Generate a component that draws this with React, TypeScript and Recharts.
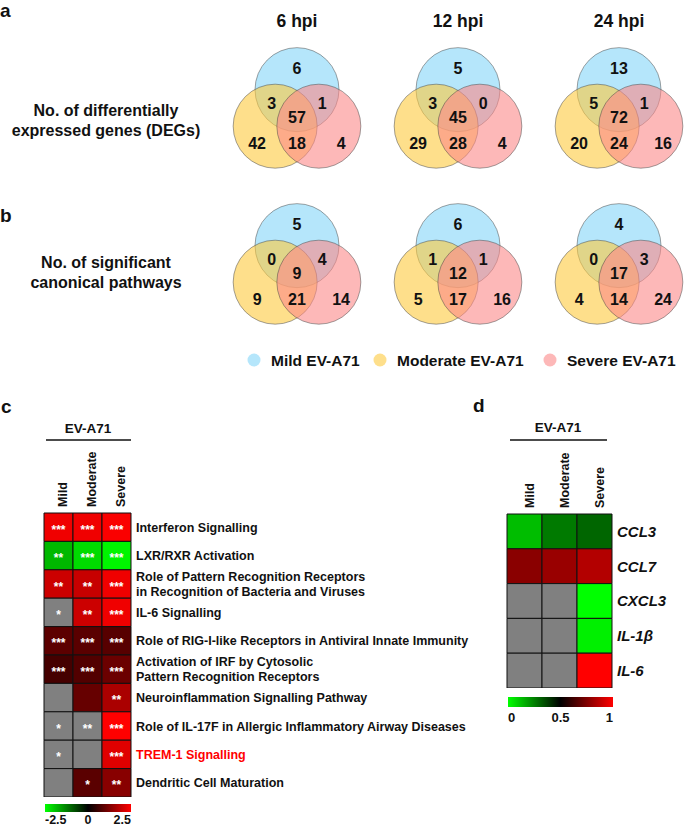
import React from 'react';
import { ScatterChart, Scatter, XAxis, YAxis, BarChart, Bar, Cell, LabelList } from 'recharts';

const FONT = '"Liberation Sans", Arial, Helvetica, sans-serif';

// ---------- Venn data ----------
const timepoints = ['6 hpi', '12 hpi', '24 hpi'];
const groups = ['Mild EV-A71', 'Moderate EV-A71', 'Severe EV-A71'];
const groupColors = ['#84d5f8', '#fdca3e', '#fc8989'];
// region order: Mild only, Moderate only, Severe only, Mild∩Moderate, Mild∩Severe, Moderate∩Severe, all three
const degs6hpi = [6, 42, 4, 3, 1, 18, 57];
const degs12hpi = [5, 29, 4, 3, 0, 28, 45];
const degs24hpi = [13, 20, 16, 5, 1, 24, 72];
const pathways6hpi = [5, 9, 14, 0, 4, 21, 9];
const pathways12hpi = [6, 5, 16, 1, 1, 17, 12];
const pathways24hpi = [4, 4, 24, 0, 3, 14, 17];

// ---------- Heatmap c data ----------
const pathwayNames = [
  'Interferon Signalling',
  'LXR/RXR Activation',
  'Role of Pattern Recognition Receptors\nin Recognition of Bacteria and Viruses',
  'IL-6 Signalling',
  'Role of RIG-I-like Receptors in Antiviral Innate Immunity',
  'Activation of IRF by Cytosolic\nPattern Recognition Receptors',
  'Neuroinflammation Signalling Pathway',
  'Role of IL-17F in Allergic Inflammatory Airway Diseases',
  'TREM-1 Signalling',
  'Dendritic Cell Maturation',
];
const severityGroups = ['Mild', 'Moderate', 'Severe'];
const mildZ = [2.35, -1.8, 2.0, null, 0.9, 0.68, null, null, null, null];
const moderateZ = [2.35, -2.15, 1.95, 2.0, 0.88, 0.8, 1.0, null, null, 0.88];
const severeZ = [2.45, -2.4, 2.35, 2.35, 0.85, 1.05, 1.67, 2.5, 2.2, 1.33];
const mildSig = ['***', '**', '**', '*', '***', '***', '', '*', '*', ''];
const moderateSig = ['***', '***', '**', '**', '***', '***', '', '**', '', '*'];
const severeSig = ['***', '***', '***', '***', '***', '***', '**', '***', '***', '**'];
const highlightedPathway = 'TREM-1 Signalling';
const zTicks = ['-2.5', '0', '2.5'];

// ---------- Heatmap d data ----------
const genes = ['CCL3', 'CCL7', 'CXCL3', 'IL-1β', 'IL-6'];
const mildGene = [0.13, 0.77, null, null, null];
const moderateGene = [0.26, 0.8, null, null, null];
const severeGene = [0.3, 0.85, 0.0, 0.03, 1.0];
const geneTicks = ['0', '0.5', '1'];

// ---------- colour scales ----------
const GREY = '#808080';
function zColor(z: number | null) {
  if (z === null || z === undefined) return GREY;
  const t = Math.min(1, Math.abs(z) / 2.5);
  const c = Math.round(t * 255);
  return z >= 0 ? `rgb(${c},0,0)` : `rgb(0,${c},0)`;
}
function uColor(v: number | null) {
  if (v === null || v === undefined) return GREY;
  const t = Math.min(1, Math.abs(v - 0.5) * 2);
  const c = Math.round(t * 255);
  return v >= 0.5 ? `rgb(${c},0,0)` : `rgb(0,${c},0)`;
}

// ---------- Venn ----------
const PX_PER_UNIT = 42;
const VENN_SIZE = 168;
const vennSets = [
  { x: 0, y: 0.58, r: 1, color: groupColors[0] },
  { x: -0.52, y: -0.29, r: 1, color: groupColors[1] },
  { x: 0.52, y: -0.29, r: 1, color: groupColors[2] },
];
const regionPos = [
  [0, 1.1], [-0.95, -0.69], [1.05, -0.69], [-0.6, 0.26], [0.6, 0.26], [0, -0.69], [0, -0.07],
];

const circleShape = (p: any) => (
  <circle
    cx={p.cx}
    cy={p.cy}
    r={p.payload.r * PX_PER_UNIT}
    fill={p.payload.color}
    fillOpacity={0.6}
    stroke="#444"
    strokeOpacity={0.55}
    strokeWidth={0.9}
  />
);
const countShape = (p: any) => (
  <text x={p.cx} y={p.cy + 6} textAnchor="middle" fontFamily={FONT} fontWeight="bold" fontSize={16} fill="#111">
    {p.payload.value}
  </text>
);

function Venn({ counts, cx, cy }: { counts: number[]; cx: number; cy: number }) {
  const labels = regionPos.map((p, k) => ({ x: p[0], y: p[1], value: counts[k] }));
  return (
    <div style={{ position: 'absolute', left: cx - VENN_SIZE / 2, top: cy - VENN_SIZE / 2 }}>
      <ScatterChart width={VENN_SIZE} height={VENN_SIZE} margin={{ top: 0, right: 0, bottom: 0, left: 0 }}>
        <XAxis type="number" dataKey="x" domain={[-2, 2]} hide />
        <YAxis type="number" dataKey="y" domain={[-2, 2]} hide />
        <Scatter data={vennSets} shape={circleShape} isAnimationActive={false} />
        <Scatter data={labels} shape={countShape} isAnimationActive={false} />
      </ScatterChart>
    </div>
  );
}

// ---------- Heatmap ----------
type HeatProps = {
  rows: string[];
  cols: string[];
  values: (number | null)[][];
  sigs?: string[][];
  colorFn: (v: number | null) => string;
  left: number;
  top: number;
  marginLeft: number;
  plotW: number;
  plotH: number;
  axisH: number;
  labelW: number;
  labelSize: number;
  italic?: boolean;
  lineH?: number;
  colOffset: number;
};

function Heatmap(props: HeatProps) {
  const { rows, cols, values, sigs, colorFn, left, top, marginLeft, plotW, plotH, axisH, labelW, labelSize, italic, colOffset } = props;
  const lineH = props.lineH || 15;
  const data = cols.map((c, j) => {
    const o: any = { name: c };
    rows.forEach((_, i) => {
      o['r' + i] = 1;
      o['s' + i] = sigs ? sigs[j][i] : '';
    });
    return o;
  });
  const ticks = rows.map((_, i) => i + 0.5);

  const ColTick = (p: any) => (
    <text
      x={p.x + colOffset}
      y={p.y}
      transform={`rotate(-90 ${p.x + colOffset} ${p.y})`}
      textAnchor="start"
      fontFamily={FONT}
      fontWeight="bold"
      fontSize={12.5}
      fill="#111"
    >
      {p.payload.value}
    </text>
  );
  const RowTick = (p: any) => {
    const idx = Math.floor(p.payload.value);
    const name = rows[idx] || '';
    const lines = name.split('\n');
    const fill = name === highlightedPathway ? '#ff0000' : '#111';
    return (
      <text
        x={p.x}
        y={p.y}
        textAnchor="start"
        fontFamily={FONT}
        fontWeight="bold"
        fontStyle={italic ? 'italic' : 'normal'}
        fontSize={labelSize}
        fill={fill}
      >
        {lines.map((l, k) => (
          <tspan key={k} x={p.x} dy={k === 0 ? -((lines.length - 1) * lineH) / 2 + labelSize * 0.36 : lineH}>
            {l}
          </tspan>
        ))}
      </text>
    );
  };
  const starLabel = (p: any) => {
    const { x, y, width, height, value } = p;
    if (!value) return null;
    return (
      <text
        x={x + width / 2}
        y={y + height / 2 + 6.5}
        textAnchor="middle"
        fontFamily={FONT}
        fontWeight="bold"
        fontSize={12}
        fill="#fff"
      >
        {value}
      </text>
    );
  };

  return (
    <div style={{ position: 'absolute', left, top }}>
      <BarChart
        width={marginLeft + plotW + labelW}
        height={axisH + plotH}
        data={data}
        margin={{ top: 0, right: 0, bottom: 0, left: marginLeft }}
        barCategoryGap={0}
        barGap={0}
      >
        <XAxis
          dataKey="name"
          orientation="top"
          height={axisH}
          axisLine={false}
          tickLine={false}
          tickSize={0}
          tickMargin={6}
          interval={0}
          tick={ColTick}
        />
        <YAxis
          type="number"
          orientation="right"
          domain={[0, rows.length]}
          reversed
          ticks={ticks}
          interval={0}
          width={labelW}
          axisLine={false}
          tickLine={false}
          tickSize={0}
          tickMargin={5}
          tick={RowTick}
        />
        {rows.map((_, i) => (
          <Bar key={i} dataKey={'r' + i} stackId="h" stroke="#111" strokeWidth={1} isAnimationActive={false}>
            {cols.map((_, j) => (
              <Cell key={j} fill={colorFn(values[j][i])} />
            ))}
            {sigs ? <LabelList dataKey={'s' + i} content={starLabel} /> : null}
          </Bar>
        ))}
      </BarChart>
    </div>
  );
}

// ---------- layout helpers ----------
const vennX = [297, 458, 619];
const rowAY = 114;
const rowBY = 270;

function Colorbar({ id, x, y, w, h, ticks, labelY, size }: { id: string; x: number; y: number; w: number; h: number; ticks: string[]; labelY: number; size: number }) {
  return (
    <g>
      <defs>
        <linearGradient id={id} x1="0" x2="1" y1="0" y2="0">
          <stop offset="0%" stopColor="#00ff00" />
          <stop offset="50%" stopColor="#000000" />
          <stop offset="100%" stopColor="#ff0000" />
        </linearGradient>
      </defs>
      <rect x={x} y={y} width={w} height={h} fill={`url(#${id})`} />
      {ticks.map((t, k) => {
        const anchor = k === 0 ? 'start' : k === ticks.length - 1 ? 'end' : 'middle';
        const tx = x + (w * k) / (ticks.length - 1);
        return (
          <text key={k} x={tx} y={labelY} textAnchor={anchor} fontFamily={FONT} fontWeight="bold" fontSize={size} fill="#111">
            {t}
          </text>
        );
      })}
    </g>
  );
}

export default function App() {
  const degSets = [degs6hpi, degs12hpi, degs24hpi];
  const pathSets = [pathways6hpi, pathways12hpi, pathways24hpi];
  const legendX = [254, 380, 550];
  return (
    <div
      style={{
        position: 'absolute',
        left: 0,
        top: 0,
        width: 685,
        height: 828,
        overflow: 'hidden',
        background: '#fff',
        fontFamily: FONT,
      }}
    >
      <svg width={685} height={828} style={{ position: 'absolute', left: 0, top: 0 }}>
        {/* panel letters */}
        <text x={0} y={17} fontFamily={FONT} fontWeight="bold" fontSize={19} fill="#111">a</text>
        <text x={0} y={222} fontFamily={FONT} fontWeight="bold" fontSize={19} fill="#111">b</text>
        <text x={1} y={413} fontFamily={FONT} fontWeight="bold" fontSize={19} fill="#111">c</text>
        <text x={473} y={412} fontFamily={FONT} fontWeight="bold" fontSize={19} fill="#111">d</text>

        {/* timepoint titles */}
        {timepoints.map((t, k) => (
          <text key={t} x={vennX[k]} y={27} textAnchor="middle" fontFamily={FONT} fontWeight="bold" fontSize={17.5} fill="#111">
            {t}
          </text>
        ))}

        {/* row descriptors */}
        <text x={106} textAnchor="middle" fontFamily={FONT} fontWeight="bold" fontSize={16} fill="#111">
          <tspan x={106} y={116}>No. of differentially</tspan>
          <tspan x={106} y={136}>expressed genes (DEGs)</tspan>
        </text>
        <text x={106} textAnchor="middle" fontFamily={FONT} fontWeight="bold" fontSize={16} fill="#111">
          <tspan x={106} y={268}>No. of significant</tspan>
          <tspan x={106} y={288}>canonical pathways</tspan>
        </text>

        {/* legend */}
        {groups.map((g, k) => (
          <g key={g}>
            <circle cx={legendX[k]} cy={360} r={6.5} fill={groupColors[k]} fillOpacity={0.6} />
            <text x={legendX[k] + 17} y={365.5} fontFamily={FONT} fontWeight="bold" fontSize={15.5} fill="#111">
              {g}
            </text>
          </g>
        ))}

        {/* EV-A71 headers */}
        <text x={88} y={433} textAnchor="middle" fontFamily={FONT} fontWeight="bold" fontSize={13.5} fill="#111">EV-A71</text>
        <line x1={46} x2={131} y1={440} y2={440} stroke="#111" strokeWidth={1.5} />
        <text x={558} y={432} textAnchor="middle" fontFamily={FONT} fontWeight="bold" fontSize={13.5} fill="#111">EV-A71</text>
        <line x1={510} x2={607} y1={440} y2={440} stroke="#111" strokeWidth={1.5} />

        {/* colour bars */}
        <Colorbar id="gradC" x={45} y={804} w={86} h={8} ticks={zTicks} labelY={824} size={12.5} />
        <Colorbar id="gradD" x={508} y={697} w={105} h={10} ticks={geneTicks} labelY={722} size={13} />
      </svg>

      {degSets.map((c, k) => (
        <Venn key={'a' + k} counts={c} cx={vennX[k]} cy={rowAY} />
      ))}
      {pathSets.map((c, k) => (
        <Venn key={'b' + k} counts={c} cx={vennX[k]} cy={rowBY} />
      ))}

      <Heatmap
        rows={pathwayNames}
        cols={severityGroups}
        values={[mildZ, moderateZ, severeZ]}
        sigs={[mildSig, moderateSig, severeSig]}
        colorFn={zColor}
        left={0}
        top={445}
        marginLeft={44}
        plotW={87}
        plotH={284}
        axisH={68}
        labelW={370}
        labelSize={12.5}
        colOffset={8}
      />
      <Heatmap
        rows={genes}
        cols={severityGroups}
        values={[mildGene, moderateGene, severeGene]}
        colorFn={uColor}
        left={460}
        top={445}
        marginLeft={47}
        plotW={105}
        plotH={174}
        axisH={69}
        labelW={75}
        labelSize={15}
        italic
        colOffset={9}
      />
    </div>
  );
}
